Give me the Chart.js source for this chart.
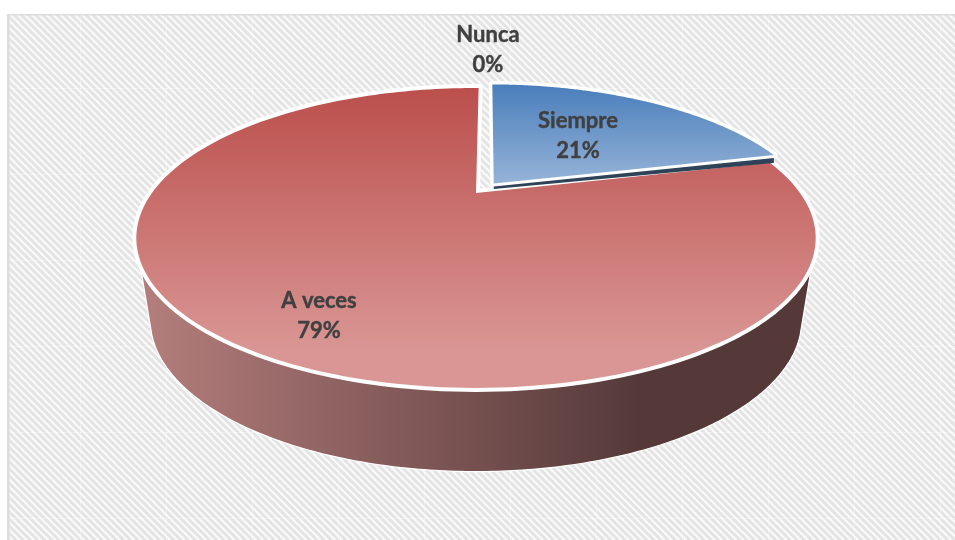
<!DOCTYPE html>
<html><head><meta charset="utf-8">
<style>html,body{margin:0;padding:0;background:#fff}canvas{display:block}</style>
<script src="https://cdn.jsdelivr.net/npm/chart.js@4"></script>
</head><body><canvas id="c" width="955" height="540"></canvas>
<script>
const categories = ['Siempre', 'A veces', 'Nunca'];
const values = [21, 79, 0];
const percentLabels = ['21%', '79%', '0%'];

// styling / 3-D look
const explode = [0.09, 0, 0];
const sliceScale = [0.975, 1, 1];
const labelCentres = [[578, 136], [319, 316], [488, 49.5]];
const K = 0.3, AX = 1.679, BY = 0.707;
const DEPTH = 81.5, BOTTOM_AX = 1.61, BOTTOM_BY = 0.715;

function project(arc, u, v, ax = AX, by = BY, dy = 0) {
  const w = 1 + K * v;
  return [arc.x + arc.outerRadius * ax * u / w, arc.y + dy - arc.outerRadius * by * v / w];
}
function tracePoints(ctx, pts) {
  pts.forEach((p, i) => i === 0 ? ctx.moveTo(p[0], p[1]) : ctx.lineTo(p[0], p[1]));
}
function wedgePoints(arc, i) {
  const m = (arc.startAngle + arc.endAngle) / 2 + Math.PI / 2;
  const ou = explode[i] * Math.sin(m), ov = explode[i] * Math.cos(m), s = sliceScale[i];
  const pts = [project(arc, ou, ov)];
  const n = 200;
  for (let j = 0; j <= n; j++) {
    const t = arc.startAngle + (arc.endAngle - arc.startAngle) * j / n + Math.PI / 2;
    pts.push(project(arc, ou + s * Math.sin(t), ov + s * Math.cos(t)));
  }
  return pts;
}
function sidePoints(arc) {
  const pts = [];
  const top = Math.asin(-0.4), bot = Math.asin(-0.387);
  const n = 200;
  for (let j = 0; j <= n; j++) {
    const a = top + (-Math.PI - 2 * top) * j / n;
    pts.push(project(arc, Math.cos(a), Math.sin(a)));
  }
  for (let j = 0; j <= n; j++) {
    const a = (-Math.PI - bot) + (2 * bot + Math.PI) * j / n;
    pts.push(project(arc, Math.cos(a), Math.sin(a), BOTTOM_AX, BOTTOM_BY, DEPTH));
  }
  return pts;
}
function makeTile() {
  const size = 86, period = size / 12;
  const c = document.createElement('canvas');
  c.width = c.height = size;
  const g = c.getContext('2d');
  g.fillStyle = '#fafafa';
  g.fillRect(0, 0, size, size);
  g.strokeStyle = '#e4e4e4';
  g.lineWidth = 3;
  for (let i = -24; i <= 24; i++) {
    const o = i * period;
    g.beginPath();
    g.moveTo(o - 10, -10);
    g.lineTo(o + size + 10, size + 10);
    g.stroke();
  }
  g.fillStyle = 'rgba(255,255,255,0.3)';
  g.fillRect(0, 0, size, 1);
  g.fillRect(0, 0, 1, size);
  return c;
}
const pie3d = {
  id: 'pie3d',
  beforeDraw(chart) {
    const ctx = chart.ctx;
    ctx.save();
    ctx.fillStyle = '#fff';
    ctx.fillRect(0, 0, chart.width, chart.height);
    ctx.translate(-6, 2);
    ctx.fillStyle = ctx.createPattern(makeTile(), 'repeat');
    ctx.fillRect(14, 12, chart.width, chart.height);
    ctx.restore();
    ctx.fillStyle = '#dcdcdc';
    ctx.fillRect(7, 14, 2.5, chart.height - 14);
    ctx.fillRect(7, 14, chart.width - 7, 1.5);
  },
  beforeDatasetDraw(chart, args) {
    const ctx = chart.ctx;
    const arcs = chart.getDatasetMeta(args.index).data.map(el =>
      el.getProps(['x', 'y', 'startAngle', 'endAngle', 'outerRadius'], true));
    const main = arcs[1];

    // side wall
    const sg = ctx.createLinearGradient(140, 0, 640, 0);
    sg.addColorStop(0, '#b47e7c');
    sg.addColorStop(1, '#553939');
    ctx.save();
    ctx.beginPath();
    tracePoints(ctx, sidePoints(main));
    ctx.closePath();
    ctx.fillStyle = sg;
    ctx.fill();
    ctx.strokeStyle = '#fff';
    ctx.lineWidth = 1.2;
    ctx.stroke();

    // red slice
    const rg = ctx.createLinearGradient(0, 88, 0, 350);
    rg.addColorStop(0, '#bb4f4c');
    rg.addColorStop(1, '#d99694');
    ctx.beginPath();
    tracePoints(ctx, wedgePoints(main, 1));
    ctx.closePath();
    ctx.lineJoin = 'round';
    ctx.strokeStyle = '#fff';
    ctx.lineWidth = 8;
    ctx.stroke();
    ctx.fillStyle = rg;
    ctx.fill();

    // blue slice with its thin dark wall
    const blue = arcs[0];
    const pts = wedgePoints(blue, 0);
    const n = pts.length - 1;
    ctx.beginPath();
    tracePoints(ctx, pts);
    ctx.closePath();
    ctx.strokeStyle = '#fff';
    ctx.lineWidth = 7;
    ctx.stroke();
    ctx.beginPath();
    const a = pts[0], b = pts[n];
    ctx.moveTo(a[0], a[1] + 3);
    ctx.lineTo(b[0], b[1] + 3);
    ctx.lineTo(b[0], b[1] + 8);
    ctx.lineTo(a[0], a[1] + 5.5);
    ctx.closePath();
    ctx.fillStyle = '#2f4358';
    ctx.fill();
    ctx.beginPath();
    tracePoints(ctx, pts);
    ctx.closePath();
    const bg = ctx.createLinearGradient(0, 85, 0, 183);
    bg.addColorStop(0, '#4a7ebb');
    bg.addColorStop(1, '#95b3d8');
    ctx.fillStyle = bg;
    ctx.fill();
    ctx.restore();
    return false;
  },
  afterDatasetsDraw(chart) {
    const ctx = chart.ctx;
    ctx.save();
    ctx.fillStyle = '#404040';
    ctx.strokeStyle = '#404040';
    ctx.lineWidth = 0.4;
    ctx.font = 'bold 22px Lato';
    ctx.textAlign = 'center';
    ctx.textBaseline = 'middle';
    categories.forEach((name, i) => {
      const [x, y] = labelCentres[i];
      ctx.fillText(name, x, y - 15);
      ctx.strokeText(name, x, y - 15);
      ctx.fillText(percentLabels[i], x, y + 15);
      ctx.strokeText(percentLabels[i], x, y + 15);
    });
    ctx.restore();
  }
};
new Chart(document.getElementById('c'), {
  type: 'pie',
  data: { labels: categories, datasets: [{ data: values, borderWidth: 0 }] },
  options: {
    responsive: false,
    animation: false,
    rotation: 0.6,
    layout: { padding: { left: 0, right: 3, top: 0, bottom: 154 } },
    plugins: { legend: { display: false }, tooltip: { enabled: false } }
  },
  plugins: [pie3d]
});
</script></body></html>
